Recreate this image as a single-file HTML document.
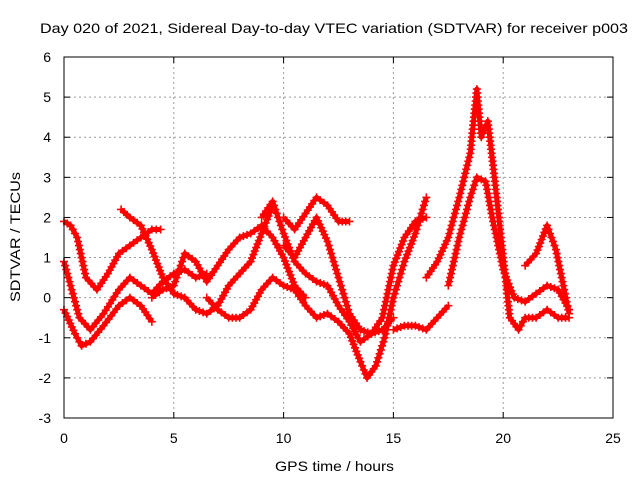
<!DOCTYPE html>
<html><head><meta charset="utf-8"><style>
html,body{margin:0;padding:0;background:#fff;}
svg{display:block;font-family:"Liberation Sans",sans-serif;}
</style></head><body>
<svg id="chart" width="640" height="480" viewBox="0 0 640 480">
<text x="40" y="33" font-size="14" textLength="588" lengthAdjust="spacingAndGlyphs">Day 020 of 2021, Sidereal Day-to-day VTEC variation (SDTVAR) for receiver p003</text>
<g id="grid"></g>
<g id="series"></g>
<rect x="64" y="57" width="549" height="361" fill="none" stroke="#000" stroke-width="1"/>
<g id="ticks"></g>
<text x="275" y="471" font-size="14" textLength="119" lengthAdjust="spacingAndGlyphs">GPS time / hours</text>
<text transform="translate(20,302) rotate(-90)" font-size="14" textLength="130" lengthAdjust="spacingAndGlyphs">SDTVAR / TECUs</text>
</svg>
<script>
const xTicks=[0,5,10,15,20,25];
const yTicks=[-3,-2,-1,0,1,2,3,4,5,6];
const track1=[[0,-0.3],[0.5,-0.9],[0.8,-1.2],[1.2,-1.1],[1.8,-0.7],[2.5,-0.2],[3,0],[3.5,-0.2],[4,-0.6]];
const track2=[[0,1.9],[0.3,1.8],[0.6,1.5],[1,0.5],[1.5,0.2],[2,0.6],[2.5,1.1],[3,1.3],[3.5,1.5],[4,1.7],[4.4,1.7]];
const track3=[[0,0.9],[0.3,0.3],[0.7,-0.5],[1.2,-0.8],[1.8,-0.4],[2.5,0.2],[3,0.5],[3.5,0.3],[4,0.1],[4.5,0.4],[5,0.6],[5.5,0.7],[6,0.5],[6.5,0.6]];
const track4=[[2.6,2.2],[3,2.0],[3.5,1.8],[4,1.2],[4.5,0.5],[5,0.1],[5.5,0.0],[6,-0.3],[6.5,-0.4],[7,-0.2],[7.5,0.3],[8,0.6],[8.5,0.9],[9,1.6],[9.5,2.3]];
const track5=[[4,0],[4.5,0.2],[5,0.3],[5.5,1.1],[6,0.9],[6.5,0.4],[7,0.8],[7.5,1.2],[8,1.5],[8.5,1.6],[9,1.8],[9.5,1.5],[10,1.0],[10.5,0.3],[11,0.0]];
const track6=[[6.5,0],[7,-0.3],[7.5,-0.5],[8,-0.5],[8.5,-0.3],[9,0.2],[9.5,0.5],[10,0.3],[10.5,0.2],[11,-0.2],[11.5,-0.5],[12,-0.4],[12.5,-0.6],[13,-0.9],[13.5,-1.6],[13.8,-2.0],[14.2,-1.7],[14.6,-1.0],[15,0.0],[15.5,0.9],[16,1.6],[16.5,2.5]];
const track7=[[9,2.0],[9.5,2.4],[10,1.6],[10.5,0.9],[11,0.6],[11.5,0.4],[12,0.3],[12.5,-0.2],[13,-0.6],[13.5,-1.1],[14,-0.9],[14.5,-0.5],[15,0.8],[15.5,1.5],[16,1.9],[16.5,2.0]];
const track8=[[10,2.0],[10.5,1.7],[11,2.1],[11.5,2.5],[12,2.3],[12.5,1.9],[13,1.9]];
const track9=[[10,1.3],[10.5,1.0],[11,1.5],[11.5,2.0],[12,1.4],[12.5,0.5],[13,-0.4],[13.5,-0.8],[14,-0.9],[14.5,-0.8],[15,-0.5]];
const track10=[[15,-0.8],[15.5,-0.7],[16,-0.7],[16.5,-0.8],[17,-0.5],[17.5,-0.2]];
const track11=[[16.5,0.5],[17,0.9],[17.5,1.5],[18,2.5],[18.5,3.6],[18.8,5.2],[19,4.0],[19.3,4.4],[19.6,3.0],[20,1.0],[20.3,-0.5],[20.7,-0.8],[21,-0.5],[21.5,-0.5],[22,-0.3],[22.5,-0.5],[23,-0.5]];
const track12=[[17.5,0.3],[18,1.5],[18.5,2.5],[18.8,3.0],[19.2,2.9],[19.5,2.0],[20,0.7],[20.5,0.0],[21,-0.1],[21.5,0.1],[22,0.3],[22.5,0.2],[23,-0.3]];
const track13=[[21,0.8],[21.5,1.1],[22,1.8],[22.4,1.2],[22.7,0.4],[23,-0.4]];
const tracks=[track1,track2,track3,track4,track5,track6,track7,track8,track9,track10,track11,track12,track13];

const NS="http://www.w3.org/2000/svg";
const X0=64,X1=613,Y0=418,Y1=57;
function sx(v){return X0+(v-0)/(25-0)*(X1-X0);}
function sy(v){return Y0-(v+3)/(6+3)*(Y0-Y1);}
const grid=document.getElementById('grid'),ticks=document.getElementById('ticks'),series=document.getElementById('series');
function mk(tag,attrs,parent){const e=document.createElementNS(NS,tag);for(const k in attrs)e.setAttribute(k,attrs[k]);parent.appendChild(e);return e;}
xTicks.forEach(t=>{
  const x=sx(t);
  if(t>0&&t<25){const g=mk('line',{x1:x,x2:x,y1:Y1,y2:Y0,stroke:'#999','stroke-dasharray':'2,3','stroke-width':1},grid);
  
  }
  mk('line',{x1:x,x2:x,y1:Y0,y2:Y0-6,stroke:'#000'},ticks);
  mk('line',{x1:x,x2:x,y1:Y1,y2:Y1+6,stroke:'#000'},ticks);
  const l=mk('text',{x:x,y:443,'font-size':14,'text-anchor':'middle'},ticks);l.textContent=t;
  
  
});
yTicks.forEach(t=>{
  const y=sy(t);
  if(t>-3&&t<6){const g=mk('line',{x1:X0,x2:X1,y1:y,y2:y,stroke:'#999','stroke-dasharray':'2,3','stroke-width':1},grid);
  
  }
  mk('line',{x1:X0,x2:X0+6,y1:y,y2:y,stroke:'#000'},ticks);
  mk('line',{x1:X1,x2:X1-6,y1:y,y2:y,stroke:'#000'},ticks);
  const l=mk('text',{x:51,y:y+5,'font-size':14,'text-anchor':'end'},ticks);l.textContent=t;
  
  
});
tracks.forEach((tr,i)=>{
  const g=mk('g',{},series);
  
  
  mk('polyline',{points:tr.map(p=>sx(p[0])+','+sy(p[1])).join(' '),fill:'none',stroke:'#f00','stroke-width':5,'stroke-linejoin':'round'},g);
  let d='';
  for(let j=0;j<tr.length;j++){
    const x=sx(tr[j][0]),y=sy(tr[j][1]);
    d+=`M${x-4},${y}h8M${x},${y-4}v8`;
    if(j<tr.length-1){
      const x2=sx(tr[j+1][0]),y2=sy(tr[j+1][1]);
      const n=Math.max(1,Math.round(Math.hypot(x2-x,y2-y)/4));
      for(let k=1;k<n;k++){const a=x+(x2-x)*k/n,b=y+(y2-y)*k/n;d+=`M${a-4},${b}h8M${a},${b-4}v8`;}
    }
  }
  mk('path',{d:d,stroke:'#f00','stroke-width':1.6,fill:'none'},g);
});
</script>
</body></html>
